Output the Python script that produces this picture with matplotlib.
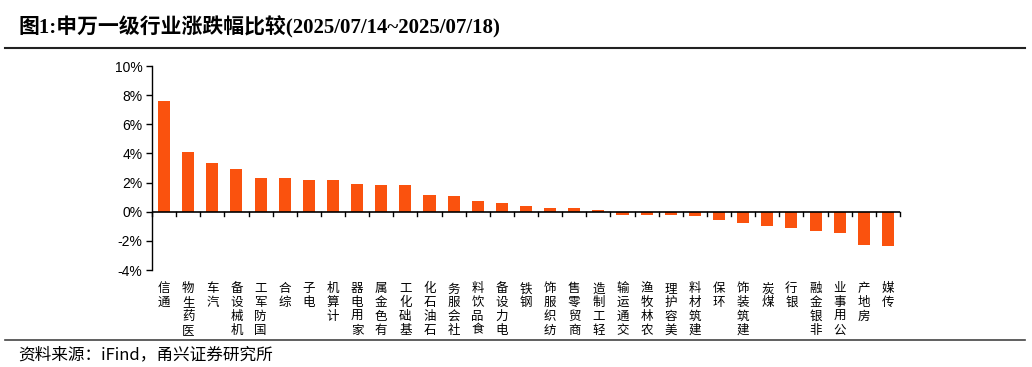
import matplotlib.pyplot as plt
import numpy as np
from matplotlib.ticker import FuncFormatter

# DATA
industries = ['通信', '医药生物', '汽车', '机械设备', '国防军工', '综合', '电子', '计算机',
              '家用电器', '有色金属', '基础化工', '石油石化', '社会服务', '食品饮料', '电力设备',
              '钢铁', '纺织服饰', '商贸零售', '轻工制造', '交通运输', '农林牧渔', '美容护理',
              '建筑材料', '环保', '建筑装饰', '煤炭', '银行', '非银金融', '公用事业', '房地产', '传媒']
change = [7.63, 4.07, 3.36, 2.94, 2.32, 2.28, 2.18, 2.16,
          1.91, 1.86, 1.82, 1.17, 1.08, 0.71, 0.62,
          0.39, 0.28, 0.25, 0.11, -0.20, -0.20, -0.20,
          -0.30, -0.57, -0.78, -0.97, -1.11, -1.34, -1.45, -2.28, -2.34]
yticks = [-4, -2, 0, 2, 4, 6, 8, 10]

cjk = ['Noto Sans CJK SC', 'DejaVu Sans']
plt.rcParams['font.family'] = cjk

W, H = 1032, 367
fig = plt.figure(figsize=(W / 100, H / 100), dpi=100)

# axes in pixel coords: left 152, right 900, top 66, bottom 270
ax = fig.add_axes([152 / W, 1 - 270 / H, (900 - 152) / W, (270 - 66) / H])
x = np.arange(len(industries))
ax.bar(x, change, width=0.5, color='#FA520E', zorder=2)

ax.set_xlim(-0.5, len(industries) - 0.5)
ax.set_ylim(-4, 10)
ax.set_yticks(yticks)
ax.yaxis.set_major_formatter(FuncFormatter(lambda v, p: '%d%%' % v))
for lbl in ax.get_yticklabels():
    lbl.set_family(['Liberation Sans', 'DejaVu Sans'])
    lbl.set_fontsize(10)
ax.tick_params(axis='y', direction='out', length=4, width=1, pad=3)

for s in ['top', 'right', 'bottom']:
    ax.spines[s].set_visible(False)
ax.spines['left'].set_linewidth(1)
ax.axhline(0, color='black', linewidth=1.2, zorder=3)

# x ticks at category boundaries on the zero line
ax.set_xticks([])
for b in np.arange(-0.5, len(industries), 1.0):
    ax.plot([b, b], [0, -0.28], color='black', linewidth=1, zorder=3, clip_on=False)

# stacked vertical labels, read bottom to top, anchored at top
for i, name in enumerate(industries):
    ax.text(i, -4.85, '\n'.join(reversed(name)), ha='center', va='top',
            fontsize=9, linespacing=1.08, family=cjk)

# title, rules and source
fig.text(18 / W, 1 - 27 / H, '图1:申万一级行业涨跌幅比较(2025/07/14~2025/07/18)',
         fontsize=15, fontweight='bold', va='center', ha='left',
         family=['Liberation Serif', 'Noto Sans CJK SC'])
fig.add_artist(plt.Line2D([5 / W, 1025 / W], [1 - 48 / H, 1 - 48 / H], color='#222222', linewidth=1.5))
fig.add_artist(plt.Line2D([5 / W, 1025 / W], [1 - 340 / H, 1 - 340 / H], color='#444444', linewidth=1.2))
fig.text(18 / W, 1 - 355 / H, '资料来源：iFind，甬兴证券研究所', fontsize=12, va='center', ha='left',
         style='italic', family=['Noto Sans CJK SC', 'DejaVu Sans'])

fig.savefig('out.png', dpi=100)
